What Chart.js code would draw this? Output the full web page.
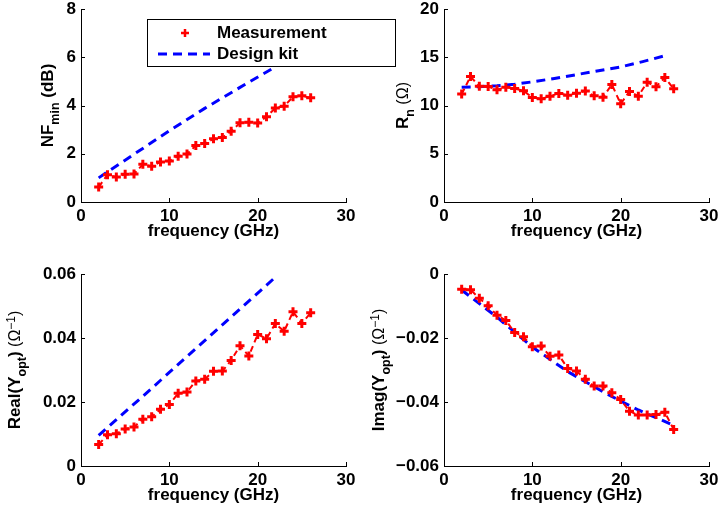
<!DOCTYPE html>
<html>
<head>
<meta charset="utf-8">
<script src="https://cdn.jsdelivr.net/npm/chart.js@4.4.1/dist/chart.umd.min.js"></script>
<style>
  html, body { margin: 0; padding: 0; background: #fff; }
  #wrap { position: relative; width: 719px; height: 515px; }
  #wrap canvas { position: absolute; left: 0; top: 0; }
</style>
</head>
<body>
<div id="wrap">
  <canvas id="nfChart" width="719" height="515"></canvas>
  <canvas id="rnChart" width="719" height="515"></canvas>
  <canvas id="reChart" width="719" height="515"></canvas>
  <canvas id="imChart" width="719" height="515"></canvas>
</div>
<script>
// measured frequencies (GHz)
const freq = [2, 3, 4, 5, 6, 7, 8, 9, 10, 11, 12, 13, 14, 15, 16, 17, 18, 19, 20, 21, 22, 23, 24, 25, 26];

// measurement
const nfMeas = [0.62, 1.13, 1.04, 1.15, 1.16, 1.56, 1.48, 1.66, 1.70, 1.90, 1.99, 2.34, 2.42, 2.62, 2.67, 2.93, 3.28, 3.31, 3.27, 3.53, 3.90, 3.97, 4.36, 4.40, 4.32];
const rnMeas = [11.18, 13.0, 12.0, 11.97, 11.63, 11.9, 11.76, 11.52, 10.83, 10.69, 10.97, 11.25, 11.07, 11.28, 11.49, 11.0, 10.86, 12.18, 10.17, 11.45, 10.97, 12.42, 11.94, 12.9, 11.73];
const reMeas = [0.0067, 0.0098, 0.0101, 0.0116, 0.0122, 0.0146, 0.0154, 0.0177, 0.0192, 0.0227, 0.0231, 0.0266, 0.0271, 0.0296, 0.0297, 0.0330, 0.0376, 0.0344, 0.0411, 0.0398, 0.0445, 0.0421, 0.0482, 0.0445, 0.0479];
const imMeas = [-0.0048, -0.0049, -0.0076, -0.0099, -0.0129, -0.0145, -0.0183, -0.0196, -0.0227, -0.0225, -0.0257, -0.0253, -0.0295, -0.0303, -0.0329, -0.0350, -0.0350, -0.0371, -0.0392, -0.0429, -0.0441, -0.0441, -0.0439, -0.0432, -0.0486];

// design kit
const nfKitX = [2, 6, 10, 14, 18, 22];
const nfKitY = [1.0, 1.98, 2.95, 3.88, 4.75, 5.6];
const rnKitX = [2, 4, 6, 8, 10, 12.5, 15, 17.5, 20, 22.5, 25];
const rnKitY = [11.9, 11.95, 12.05, 12.2, 12.45, 12.8, 13.2, 13.6, 14.0, 14.55, 15.15];
const reKitX = [2, 7, 12, 17, 22];
const reKitY = [0.0096, 0.0218, 0.0342, 0.0466, 0.059];
const imKitX = [2, 6, 10, 14, 18, 20, 22, 24, 26];
const imKitY = [-0.005, -0.0135, -0.0228, -0.0305, -0.0368, -0.0397, -0.0425, -0.0449, -0.0473];

// axes
const xTicks = [0, 10, 20, 30];
const nfTicks = [0, 2, 4, 6, 8];
const rnTicks = [0, 5, 10, 15, 20];
const reTicks = [0, 0.02, 0.04, 0.06];
const imTicks = [-0.06, -0.04, -0.02, 0];

const legendLabels = ["Measurement", "Design kit"];
const xTitle = "frequency (GHz)";

const FONT = "'Liberation Sans', Arial, Helvetica, sans-serif";
Chart.defaults.font.family = FONT;
Chart.defaults.font.size = 17;
Chart.defaults.font.weight = "bold";
Chart.defaults.color = "#000";
Chart.defaults.animation = false;

const Y_W = 70;
const X_H = 40;

function pts(xs, ys) {
    return xs.map((x, i) => ({ x: x, y: ys[i] }));
}

function fmt(v) {
    if (Math.abs(v) < 1e-9) return "0";
    const s = Math.abs(v) < 1 ? v.toFixed(2) : String(v);
    return s.replace("-", "\u2212");
}

// y label with sub/superscripts, drawn rotated
function drawYLabel(ctx, parts, bx, cy) {
    ctx.save();
    ctx.fillStyle = "#000";
    ctx.textBaseline = "alphabetic";
    ctx.textAlign = "left";
    let total = 0;
    for (const p of parts) {
        ctx.font = p.font;
        total += ctx.measureText(p.t).width;
    }
    ctx.translate(bx, cy);
    ctx.rotate(-Math.PI / 2);
    let x = -total / 2;
    for (const p of parts) {
        ctx.font = p.font;
        ctx.fillText(p.t, x, p.dy || 0);
        x += ctx.measureText(p.t).width;
    }
    ctx.restore();
}

const B17 = "bold 17px " + FONT;
const B12 = "bold 12.5px " + FONT;
const N16 = "16px " + FONT;
const N12 = "12px " + FONT;

const axisDecor = {
    id: "axisDecor",
    afterDraw(chart, args, opts) {
        const ctx = chart.ctx;
        const a = chart.chartArea;
        ctx.save();
        ctx.strokeStyle = "#000";
        ctx.lineWidth = 1;
        ctx.beginPath();
        for (const t of chart.scales.x.ticks) {
            const px = Math.round(chart.scales.x.getPixelForValue(t.value)) + 0.5;
            ctx.moveTo(px, a.bottom);
            ctx.lineTo(px, a.bottom - 4);
        }
        for (const t of chart.scales.y.ticks) {
            const py = Math.round(chart.scales.y.getPixelForValue(t.value)) + 0.5;
            ctx.moveTo(a.left, py);
            ctx.lineTo(a.left + 4, py);
        }
        ctx.stroke();
        ctx.restore();
        drawYLabel(ctx, opts.label, opts.labelX, (a.top + a.bottom) / 2);
    }
};

const legendBox = {
    id: "legendBox",
    afterDraw(chart) {
        const ctx = chart.ctx;
        ctx.save();
        ctx.fillStyle = "#fff";
        ctx.fillRect(147, 19.5, 248, 47);
        ctx.strokeStyle = "#000";
        ctx.lineWidth = 1;
        ctx.strokeRect(147.5, 19.5, 248, 47);
        // measurement marker
        ctx.strokeStyle = "#ff0000";
        ctx.lineWidth = 2.5;
        ctx.beginPath();
        ctx.moveTo(185, 29); ctx.lineTo(185, 37);
        ctx.moveTo(181, 33); ctx.lineTo(189, 33);
        ctx.stroke();
        // design kit line
        ctx.strokeStyle = "#0000ff";
        ctx.lineWidth = 3;
        ctx.setLineDash([9, 6]);
        ctx.beginPath();
        ctx.moveTo(158, 54); ctx.lineTo(210, 54);
        ctx.stroke();
        ctx.setLineDash([]);
        ctx.fillStyle = "#000";
        ctx.font = B17;
        ctx.textBaseline = "middle";
        ctx.textAlign = "left";
        ctx.fillText(legendLabels[0], 217, 33);
        ctx.fillText(legendLabels[1], 217, 54);
        ctx.restore();
    }
};

function makeChart(id, area, meas, kit, yTicks, label, labelX, extra) {
    const yMin = yTicks[0], yMax = yTicks[yTicks.length - 1];
    return new Chart(document.getElementById(id), {
        type: "scatter",
        data: {
            datasets: [
                {
                    label: legendLabels[0],
                    data: pts(freq, meas),
                    showLine: true,
                    borderColor: "#ff0000",
                    borderWidth: 2,
                    borderDash: [6, 4],
                    pointStyle: "cross",
                    pointRadius: 4.5,
                    pointBorderWidth: 3,
                    pointBorderColor: "#ff0000",
                    pointBackgroundColor: "#ff0000"
                },
                {
                    label: legendLabels[1],
                    data: kit,
                    showLine: true,
                    borderColor: "#0000ff",
                    borderWidth: 3,
                    borderDash: [9, 6],
                    pointRadius: 0,
                    order: 1
                }
            ]
        },
        options: {
            responsive: false,
            devicePixelRatio: 1,
            layout: {
                padding: {
                    left: area.l - Y_W,
                    top: area.t,
                    right: 719 - area.r,
                    bottom: 515 - area.b - X_H
                }
            },
            plugins: {
                legend: { display: false },
                tooltip: { enabled: false },
                axisDecor: { label: label, labelX: labelX }
            },
            scales: {
                x: {
                    type: "linear",
                    min: 0,
                    max: 30,
                    afterBuildTicks: s => { s.ticks = xTicks.map(v => ({ value: v })); },
                    afterFit: s => {
                        s.height = X_H;
                        s.paddingLeft = 0; s.paddingRight = 0;
                        s.paddingTop = 0; s.paddingBottom = 0;
                    },
                    grid: { display: false, drawTicks: false, tickLength: 0 },
                    border: { display: true, color: "#000", width: 1 },
                    ticks: { padding: 4, maxRotation: 0, callback: v => fmt(v) },
                    title: { display: true, text: xTitle, padding: 0 }
                },
                y: {
                    type: "linear",
                    min: yMin,
                    max: yMax,
                    afterBuildTicks: s => { s.ticks = yTicks.map(v => ({ value: v })); },
                    afterFit: s => {
                        s.width = Y_W;
                        s.paddingLeft = 0; s.paddingRight = 0;
                        s.paddingTop = 0; s.paddingBottom = 0;
                    },
                    grid: { display: false, drawTicks: false, tickLength: 0 },
                    border: { display: true, color: "#000", width: 1 },
                    ticks: { padding: 5, callback: v => fmt(v) }
                }
            }
        },
        plugins: extra ? [axisDecor, extra] : [axisDecor]
    });
}

makeChart("nfChart", { l: 81, t: 9, r: 346, b: 202 }, nfMeas, pts(nfKitX, nfKitY), nfTicks,
    [{ t: "NF", font: B17 }, { t: "min", font: B12, dy: 6 }, { t: " (dB)", font: B17 }], 53, legendBox);

makeChart("rnChart", { l: 444, t: 9, r: 709, b: 202 }, rnMeas, pts(rnKitX, rnKitY), rnTicks,
    [{ t: "R", font: B17 }, { t: "n", font: B12, dy: 6 }, { t: " (\u03A9)", font: N16 }], 408);

makeChart("reChart", { l: 81, t: 274, r: 346, b: 466 }, reMeas, pts(reKitX, reKitY), reTicks,
    [{ t: "Real(Y", font: B17 }, { t: "opt", font: B12, dy: 6 }, { t: ")", font: B17 },
     { t: " (\u03A9", font: N16 }, { t: "\u22121", font: N12, dy: -5 }, { t: ")", font: N16 }], 19.5);

makeChart("imChart", { l: 444, t: 274, r: 709, b: 466 }, imMeas, pts(imKitX, imKitY), imTicks,
    [{ t: "Imag(Y", font: B17 }, { t: "opt", font: B12, dy: 6 }, { t: ")", font: B17 },
     { t: " (\u03A9", font: N16 }, { t: "\u22121", font: N12, dy: -5 }, { t: ")", font: N16 }], 383.5);
</script>
</body>
</html>
